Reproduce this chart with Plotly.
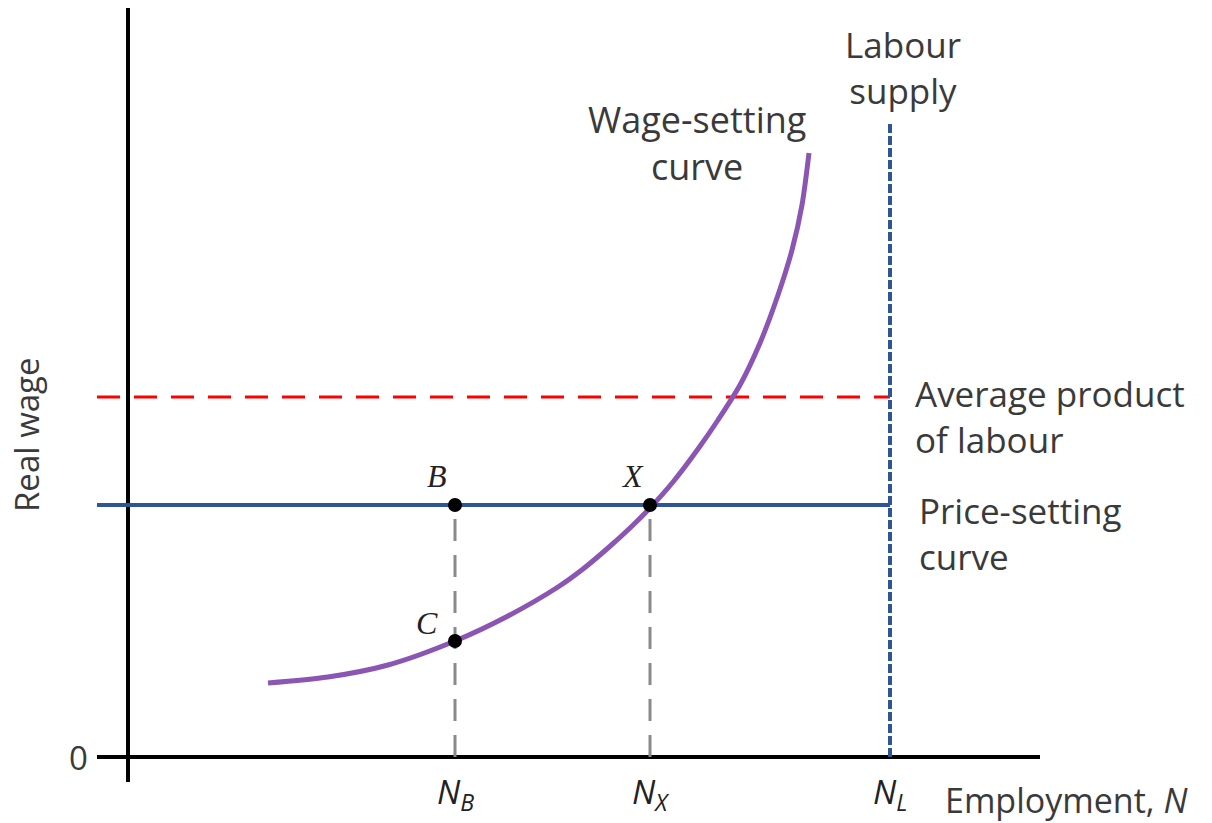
import plotly.graph_objects as go

# ---- data (units: employment N on x, real wage on y) ----
wage_setting_N = [140, 200, 260, 327, 380, 430, 455, 480, 502, 522, 545, 570, 590, 612, 632, 650, 664, 674, 681]
wage_setting_w = [74, 80, 92, 116, 141, 170, 188, 209, 229, 249, 275, 308, 337, 372, 414, 462, 507, 552, 604]

N_B = 327
N_X = 522
N_L = 762
price_setting_w = 252
apl_w = 360
C_w = 116
labour_supply_top = 635

x_axis_range = [-31, 912]
y_axis_range = [-25, 750]
line_start_x = -31

point_N = [N_B, N_X, N_B]
point_w = [price_setting_w, price_setting_w, C_w]

tick_labels = ["<i>N</i><sub><i>B</i></sub>", "<i>N</i><sub><i>X</i></sub>", "<i>N</i><sub><i>L</i></sub>"]
tick_vals = [N_B, N_X, N_L]

BLUE = "#2E5597"
PURPLE = "#8B55B3"
TXT = "#3a3a3a"
FONT = "Open Sans"

fig = go.Figure()

# axes
fig.add_trace(go.Scatter(x=[0, 0], y=y_axis_range, mode="lines",
                         line=dict(color="black", width=4), hoverinfo="skip"))
fig.add_trace(go.Scatter(x=x_axis_range, y=[0, 0], mode="lines",
                         line=dict(color="black", width=4), hoverinfo="skip"))

# guide lines
fig.add_trace(go.Scatter(x=[N_B, N_B], y=[0, price_setting_w], mode="lines",
                         line=dict(color="#8a8a8a", width=3, dash="22px,14px")))
fig.add_trace(go.Scatter(x=[N_X, N_X], y=[0, price_setting_w], mode="lines",
                         line=dict(color="#8a8a8a", width=3, dash="22px,14px")))

# average product of labour
fig.add_trace(go.Scatter(x=[line_start_x, N_L], y=[apl_w, apl_w], mode="lines",
                         line=dict(color="#FF0000", width=3, dash="23px,14px")))
# labour supply
fig.add_trace(go.Scatter(x=[N_L, N_L], y=[0, labour_supply_top], mode="lines",
                         line=dict(color=BLUE, width=4, dash="9px,3px")))
# price-setting curve
fig.add_trace(go.Scatter(x=[line_start_x, N_L], y=[price_setting_w, price_setting_w], mode="lines",
                         line=dict(color=BLUE, width=4)))
# wage-setting curve
fig.add_trace(go.Scatter(x=wage_setting_N, y=wage_setting_w, mode="lines",
                         line=dict(color=PURPLE, width=5, shape="spline", smoothing=0.8)))
# points
fig.add_trace(go.Scatter(x=point_N, y=point_w, mode="markers",
                         marker=dict(color="black", size=14)))

ann = []
def add(text, x, y, xanchor="center", size=35, family=FONT, color=TXT, textangle=0, align="center"):
    ann.append(dict(text=text, x=x, y=y, xref="x", yref="y", showarrow=False,
                    xanchor=xanchor, yanchor="middle", align=align, textangle=textangle,
                    font=dict(family=family, size=size, color=color)))

add("Labour<br>supply", 775, 690)
add("Wage-setting<br>curve", 569, 614, size=36)
add("Average product<br>of labour", 785, 341, xanchor="left", align="left")
add("Price-setting<br>curve", 789, 224, xanchor="left", align="left")
add("Real wage", -102, 322, textangle=-90, size=33)
add("0", -50, 0, size=33)
add("Employment, <i>N</i>", 815, -43, xanchor="left", size=34)
for t, v in zip(tick_labels, tick_vals):
    add(t, v, -36, size=33, family=FONT, color="#222")
# point labels
add("<i>B</i>", 309, 281, size=32, family="Liberation Serif", color="#222")
add("<i>X</i>", 504, 281, size=32, family="Liberation Serif", color="#222")
add("<i>C</i>", 299, 134, size=32, family="Liberation Serif", color="#222")

fig.update_layout(
    width=1212, height=823,
    margin=dict(l=0, r=0, t=0, b=0),
    paper_bgcolor="white", plot_bgcolor="white",
    showlegend=False,
    annotations=ann,
    xaxis=dict(range=[-120, 1092], visible=False, fixedrange=True),
    yaxis=dict(range=[-74, 749], visible=False, fixedrange=True),
)

fig.write_html("out.html")
